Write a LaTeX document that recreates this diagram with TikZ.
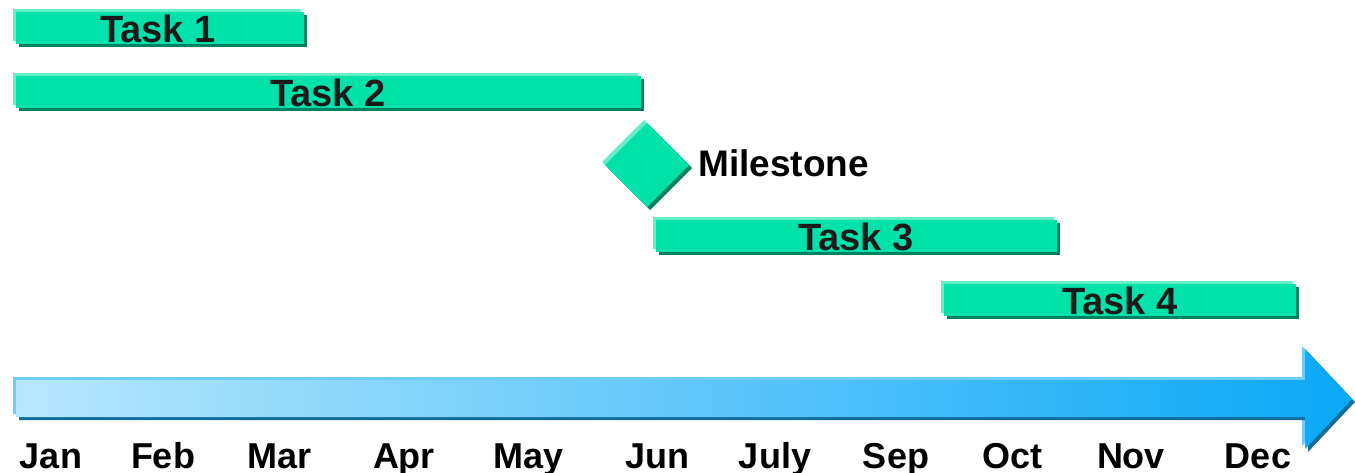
\documentclass[tikz,border=0pt]{standalone}
\usepackage{fontspec}
\setmainfont{Liberation Sans}
\definecolor{gmain}{HTML}{00E2AA}
\definecolor{glight}{HTML}{66EEC8}
\definecolor{gdark}{HTML}{00825F}
\definecolor{bleft}{HTML}{B8E7FC}
\definecolor{bmid}{HTML}{8FD4FD}
\definecolor{bright}{HTML}{0AA8F7}
\definecolor{blight}{HTML}{6CCDF8}
\definecolor{bdark}{HTML}{106E9C}
\definecolor{txt}{HTML}{1A1A1A}
\tikzset{
  tasklabel/.style={anchor=base, font=\bfseries\fontsize{38}{40}\selectfont, text=txt, inner sep=0pt},
  monthlabel/.style={anchor=base, font=\bfseries\fontsize{36}{38}\selectfont, text=black, inner sep=0pt},
}
\newcommand{\ganttbar}[4]{% x1,y1,x2,y2 of main rectangle
  \fill[glight] (#1-3,#2-3) rectangle (#3-3,#4-3);
  \fill[gdark] (#1+3,#2+3) rectangle (#3+3,#4+3);
  \fill[gmain] (#1,#2) rectangle (#3,#4);
}
\begin{document}
\begin{tikzpicture}[x=1pt,y=-1pt]
\useasboundingbox (0,0) rectangle (1355,473);
% bars
\ganttbar{16}{12}{304}{44}
\node[tasklabel] (t1) at (158,43) {Task 1};
\ganttbar{16}{76}{641}{108}
\node[tasklabel] (t2) at (328,107) {Task 2};
\ganttbar{656}{220}{1057}{252}
\node[tasklabel] (t3) at (856,251) {Task 3};
\ganttbar{944}{284}{1296}{316}
\node[tasklabel] (t4) at (1120,314) {Task 4};
% milestone
\fill[glight] (644,120) -- (686,162) -- (644,204) -- (602,162) -- cycle;
\fill[gdark] (650,126) -- (692,168) -- (650,210) -- (608,168) -- cycle;
\fill[gmain] (647,123) -- (689,165) -- (647,207) -- (605,165) -- cycle;
\node[anchor=west, inner sep=0pt, font=\bfseries\fontsize{37}{39}\selectfont] (ms) at (698,163) {Milestone};
% timeline arrow
\fill[blight] (13,377) -- (1302,377) -- (1302,346) -- (1349,396) -- (1302,446) -- (1302,414) -- (13,414) -- cycle;
\fill[bdark] (19,383) -- (1308,383) -- (1308,352) -- (1355,402) -- (1308,452) -- (1308,420) -- (19,420) -- cycle;
\shade[left color=bleft, middle color=bmid, right color=bright] (16,380) -- (1305,380) -- (1305,349) -- (1352,399) -- (1305,449) -- (1305,417) -- (16,417) -- cycle;
% months
\node[monthlabel] (m1) at (51,468) {Jan};
\node[monthlabel] (m2) at (163,468) {Feb};
\node[monthlabel] (m3) at (280,468) {Mar};
\node[monthlabel] (m4) at (404,468) {Apr};
\node[monthlabel] (m5) at (529,468) {May};
\node[monthlabel] (m6) at (657,468) {Jun};
\node[monthlabel] (m7) at (775,468) {July};
\node[monthlabel] (m8) at (896,468) {Sep};
\node[monthlabel] (m9) at (1012,468) {Oct};
\node[monthlabel] (m10) at (1131,468) {Nov};
\node[monthlabel] (m11) at (1258,468) {Dec};
\end{tikzpicture}
\end{document}
